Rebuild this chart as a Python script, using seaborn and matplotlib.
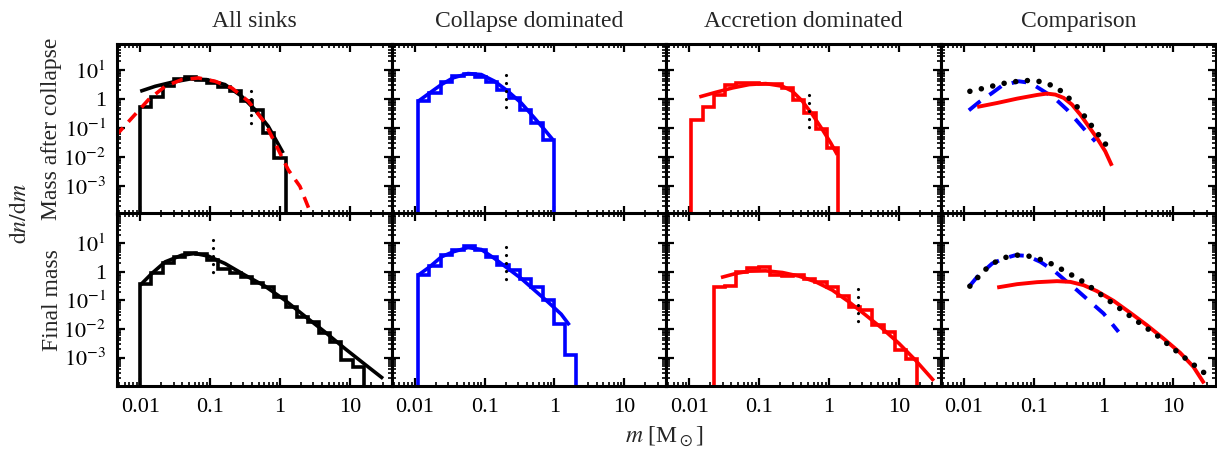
import numpy as np
import pandas as pd
import matplotlib
matplotlib.use("Agg")
import matplotlib.pyplot as plt
import seaborn as sns
from matplotlib.ticker import FixedLocator, LogLocator, FuncFormatter, NullFormatter

# ---------------- data: log10(m / Msun), log10(dn/dm) ----------------
col_titles = ["All sinks", "Collapse dominated", "Accretion dominated", "Comparison"]
row_titles = ["Mass after collapse", "Final mass"]
x_ticks = [0.01, 0.1, 1, 10]
y_ticks = [1e-3, 1e-2, 1e-1, 1, 1e1]

# All sinks, mass after collapse
all_c_edges = [-2.00, -1.84, -1.68, -1.52, -1.36, -1.20, -1.04, -0.88, -0.72, -0.56, -0.40, -0.24, -0.08, 0.08]
all_c_hist = [-0.277, 0.055, 0.46, 0.69, 0.76, 0.645, 0.553, 0.415, 0.265, -0.08, -0.37, -1.18, -2.04]
all_c_fit_m = [-2.0, -1.786, -1.548, -1.286, -1.048, -0.786, -0.548, -0.357, -0.167, 0.047]
all_c_fit_v = [0.263, 0.436, 0.575, 0.69, 0.667, 0.495, 0.092, -0.37, -0.946, -1.87]
all_c_ln_m = [-2.357, -2.12, -1.881, -1.643, -1.405, -1.167, -0.929, -0.69, -0.452, -0.214, -0.071, 0.119, 0.286, 0.429]
all_c_ln_v = [-1.29, -0.66, -0.024, 0.436, 0.667, 0.725, 0.61, 0.38, -0.08, -0.83, -1.52, -2.45, -3.02, -3.88]
all_c_mark = [-0.414, 0.263, -1.06]

# All sinks, final mass
all_f_edges = [-2.00, -1.84, -1.68, -1.52, -1.36, -1.20, -1.04, -0.88, -0.72, -0.56, -0.40,
               -0.24, -0.08, 0.08, 0.24, 0.40, 0.56, 0.72, 0.88, 1.04, 1.20]
all_f_hist = [-0.43, -0.056, 0.315, 0.524, 0.643, 0.62, 0.41, 0.083, -0.056, -0.175, -0.384,
              -0.546, -0.874, -1.224, -1.595, -1.748, -2.155, -2.448, -3.087, -3.32]
all_f_fit_m = [-2.0, -1.834, -1.643, -1.405, -1.214, -1.024, -0.786, -0.5, -0.214, 0.071, 0.357, 0.643, 0.929, 1.214, 1.476]
all_f_fit_v = [-0.465, -0.056, 0.35, 0.584, 0.643, 0.55, 0.292, -0.115, -0.5, -0.99, -1.55, -2.1, -2.68, -3.23, -3.73]
all_f_mark = [-0.955, 1.11, -0.29]

# Collapse dominated, mass after collapse
col_c_edges = [-1.95, -1.79, -1.63, -1.46, -1.30, -1.14, -0.98, -0.82, -0.65, -0.49, -0.33, -0.17, -0.01]
col_c_hist = [-0.08, 0.208, 0.577, 0.785, 0.877, 0.762, 0.577, 0.3, 0.035, -0.37, -0.83, -1.41]
col_c_fit_m = [-1.951, -1.786, -1.619, -1.452, -1.238, -1.048, -0.857, -0.666, -0.476, -0.286, -0.143, -0.023]
col_c_fit_v = [-0.08, 0.208, 0.496, 0.727, 0.877, 0.842, 0.612, 0.265, -0.14, -0.66, -1.06, -1.41]
col_c_mark = [-0.70, 0.842, -0.48]

# Collapse dominated, final mass
col_f_edges = [-1.95, -1.79, -1.63, -1.46, -1.30, -1.14, -0.98, -0.82, -0.65, -0.49, -0.33, -0.17, -0.01, 0.15, 0.31]
col_f_hist = [-0.115, 0.2, 0.584, 0.782, 0.9, 0.782, 0.525, 0.233, 0.058, -0.233, -0.524, -0.99, -1.806, -2.913]
col_f_fit_m = [-1.951, -1.786, -1.619, -1.452, -1.238, -1.048, -0.857, -0.666, -0.476, -0.286, -0.095, 0.096, 0.214]
col_f_fit_v = [-0.115, 0.176, 0.525, 0.7, 0.851, 0.782, 0.466, 0.117, -0.233, -0.641, -1.049, -1.48, -1.864]
col_f_mark = [-0.70, 0.874, -0.465]

# Accretion dominated, mass after collapse
acc_c_edges = [-1.98, -1.81, -1.65, -1.49, -1.33, -1.17, -1.00, -0.84, -0.68, -0.52, -0.36, -0.19, -0.03, 0.13]
acc_c_hist = [-0.716, -0.277, 0.149, 0.496, 0.553, 0.553, 0.53, 0.519, 0.38, -0.024, -0.485, -1.04, -1.7]
acc_c_fit_m = [-1.857, -1.619, -1.381, -1.143, -0.905, -0.667, -0.524, -0.381, -0.238, -0.095, 0.024, 0.119]
acc_c_fit_v = [0.069, 0.23, 0.38, 0.496, 0.53, 0.438, 0.265, -0.08, -0.54, -1.06, -1.52, -1.93]
acc_c_mark = [-0.286, 0.149, -1.18]

# Accretion dominated, final mass
acc_f_edges = [-1.65, -1.49, -1.33, -1.17, -1.00, -0.84, -0.68, -0.52, -0.36, -0.20, -0.03,
               0.13, 0.29, 0.45, 0.62, 0.78, 0.94, 1.10, 1.26]
acc_f_hist = [-0.546, -0.5, 0.0, 0.152, 0.175, -0.115, -0.15, -0.115, -0.233, -0.35, -0.546,
              -0.85, -1.246, -1.34, -1.864, -2.1, -2.74, -3.03]
acc_f_fit_m = [-1.547, -1.333, -1.143, -0.905, -0.667, -0.429, -0.19, 0.048, 0.286, 0.524, 0.762, 1.0, 1.238, 1.5]
acc_f_fit_v = [-0.197, -0.056, 0.025, 0.036, -0.022, -0.15, -0.35, -0.64, -1.05, -1.51, -1.98, -2.5, -3.09, -3.81]
acc_f_mark = [0.414, -0.615, -1.98]

# Comparison, mass after collapse
cmp_c_all_m = [-1.914, -1.757, -1.604, -1.452, -1.295, -1.129, -0.976, -0.833, -0.68, -0.557,
               -0.437, -0.333, -0.237, -0.143, -0.047, 0.048]
cmp_c_all_v = [0.263, 0.346, 0.436, 0.529, 0.588, 0.634, 0.634, 0.553, 0.403, 0.173,
               -0.116, -0.393, -0.716, -1.016, -1.315, -1.628]
cmp_c_col_m = [-1.928, -1.786, -1.595, -1.452, -1.214, -1.048, -0.833, -0.69, -0.524, -0.405, -0.238, -0.119]
cmp_c_col_v = [-0.394, -0.116, 0.206, 0.46, 0.61, 0.553, 0.23, 0.0, -0.37, -0.693, -1.155, -1.467]
cmp_c_acc_m = [-1.809, -1.523, -1.238, -0.952, -0.81, -0.69, -0.571, -0.452, -0.333, -0.214, -0.095, 0.024, 0.119]
cmp_c_acc_v = [-0.277, -0.14, 0.01, 0.137, 0.184, 0.149, 0.035, -0.196, -0.542, -0.946, -1.35, -1.81, -2.31]

# Comparison, final mass
cmp_f_all_m = [-1.914, -1.704, -1.571, -1.429, -1.267, -1.119, -0.819, -0.533, -0.266, -0.009, 0.381, 0.771, 1.143, 1.514]
cmp_f_all_v = [-0.5, 0.058, 0.315, 0.49, 0.584, 0.584, 0.374, 0.0, -0.384, -0.85, -1.549, -2.237, -2.97, -3.67]
cmp_f_col_m = [-1.928, -1.809, -1.595, -1.429, -1.262, -1.095, -0.904, -0.69, -0.524, -0.38, -0.19, 0.0, 0.214]
cmp_f_col_v = [-0.523, -0.175, 0.292, 0.466, 0.584, 0.56, 0.35, 0.0, -0.35, -0.64, -1.05, -1.457, -2.098]
cmp_f_acc_m = [-1.523, -1.238, -0.952, -0.666, -0.476, -0.286, -0.095, 0.143, 0.381, 0.62, 0.857, 1.096, 1.286, 1.439]
cmp_f_acc_v = [-0.546, -0.43, -0.36, -0.325, -0.35, -0.465, -0.674, -1.012, -1.43, -1.864, -2.33, -2.83, -3.32, -3.9]

# ---------------- style ----------------
sns.set_style("ticks")
plt.rcParams.update({
    "font.family": ["Liberation Serif", "DejaVu Serif"],
    "mathtext.fontset": "stix",
    "axes.linewidth": 2.0,
    "axes.edgecolor": "black",
    "xtick.color": "black", "ytick.color": "black",
    "xtick.labelsize": 16, "ytick.labelsize": 16,
})

BLACK, BLUE, RED = "#000000", "#0000ff", "#ff0000"
FLOOR = -7.0
LW = 2.6

fig, axes = plt.subplots(2, 4, figsize=(12.17, 4.49), dpi=100, sharex=True, sharey="row",
                         gridspec_kw=dict(height_ratios=[169.5, 172.5], wspace=0, hspace=0))
fig.subplots_adjust(left=117.3 / 1217, right=1215.5 / 1217, top=1 - 44 / 449, bottom=1 - 386 / 449)


def curve_df(lm, lv):
    return pd.DataFrame({"m": np.power(10.0, lm), "v": np.power(10.0, lv)})


def step_df(edges, vals):
    xs, ys = [edges[0]], [FLOOR]
    for i, v in enumerate(vals):
        xs += [edges[i], edges[i + 1]]
        ys += [v, v]
    xs.append(edges[-1]); ys.append(FLOOR)
    return curve_df(xs, ys)


def line(ax, df, color, lw=LW, ls="-", cap="butt"):
    sns.lineplot(data=df, x="m", y="v", ax=ax, sort=False, estimator=None, color=color,
                 linewidth=lw, linestyle=ls, dash_capstyle=cap, solid_capstyle="butt",
                 solid_joinstyle="miter")


def mark(ax, spec):
    lm, top, bot = spec
    line(ax, curve_df([lm, lm], [top, bot]), BLACK, lw=2.3, ls=(0, (0.01, 2.5)), cap="round")


for ax in axes.flat:
    ax.set_xscale("log")
    ax.set_yscale("log")

# All sinks
line(axes[0, 0], step_df(all_c_edges, all_c_hist), BLACK)
line(axes[0, 0], curve_df(all_c_fit_m, all_c_fit_v), BLACK)
line(axes[0, 0], curve_df(all_c_ln_m, all_c_ln_v), RED, ls=(0, (3.2, 2.2)))
mark(axes[0, 0], all_c_mark)
line(axes[1, 0], step_df(all_f_edges, all_f_hist), BLACK)
line(axes[1, 0], curve_df(all_f_fit_m, all_f_fit_v), BLACK)
mark(axes[1, 0], all_f_mark)

# Collapse dominated
line(axes[0, 1], step_df(col_c_edges, col_c_hist), BLUE)
line(axes[0, 1], curve_df(col_c_fit_m, col_c_fit_v), BLUE)
mark(axes[0, 1], col_c_mark)
line(axes[1, 1], step_df(col_f_edges, col_f_hist), BLUE)
line(axes[1, 1], curve_df(col_f_fit_m, col_f_fit_v), BLUE)
mark(axes[1, 1], col_f_mark)

# Accretion dominated
line(axes[0, 2], step_df(acc_c_edges, acc_c_hist), RED)
line(axes[0, 2], curve_df(acc_c_fit_m, acc_c_fit_v), RED)
mark(axes[0, 2], acc_c_mark)
line(axes[1, 2], step_df(acc_f_edges, acc_f_hist), RED)
line(axes[1, 2], curve_df(acc_f_fit_m, acc_f_fit_v), RED)
mark(axes[1, 2], acc_f_mark)

# Comparison
for r, (am, av, cm, cv, rm, rv) in enumerate([
        (cmp_c_all_m, cmp_c_all_v, cmp_c_col_m, cmp_c_col_v, cmp_c_acc_m, cmp_c_acc_v),
        (cmp_f_all_m, cmp_f_all_v, cmp_f_col_m, cmp_f_col_v, cmp_f_acc_m, cmp_f_acc_v)]):
    ax = axes[r, 3]
    line(ax, curve_df(cm, cv), BLUE, lw=2.8, ls=(0, (3.8, 2.8)))
    line(ax, curve_df(rm, rv), RED, lw=2.8)
    line(ax, curve_df(am, av), BLACK, lw=4.0, ls=(0, (0.01, 2.1)), cap="round")


def yfmt(v, pos):
    e = int(round(np.log10(v)))
    return "1" if e == 0 else r"$10^{%d}$" % e


for (r, c), ax in np.ndenumerate(axes):
    ax.set_xlim(0.0047, 40)
    ax.set_ylim(*((1.1e-4, 79) if r == 0 else (1.02e-4, 110)))
    ax.xaxis.set_major_locator(FixedLocator(x_ticks))
    ax.xaxis.set_minor_locator(LogLocator(base=10, subs=np.arange(2, 10), numticks=100))
    ax.xaxis.set_major_formatter(FuncFormatter(lambda v, p: "%g" % v))
    ax.xaxis.set_minor_formatter(NullFormatter())
    ax.yaxis.set_major_locator(FixedLocator(y_ticks))
    ax.yaxis.set_minor_locator(LogLocator(base=10, subs=np.arange(2, 10), numticks=100))
    ax.yaxis.set_major_formatter(FuncFormatter(yfmt))
    ax.yaxis.set_minor_formatter(NullFormatter())
    ax.tick_params(which="both", direction="in", top=True, right=True, color="black")
    ax.tick_params(which="major", length=5.5, width=1.6)
    ax.tick_params(which="minor", length=3.0, width=1.2)
    ax.tick_params(axis="x", which="major", pad=9)
    ax.tick_params(axis="y", which="major", pad=8)
    ax.set_xlabel("")
    ax.set_ylabel("")
    for s in ax.spines.values():
        s.set_linewidth(2.2)
    if r == 0:
        ax.set_title(col_titles[c], fontsize=17, pad=12)
    if c > 0:
        ax.tick_params(labelleft=False)
    if r == 0:
        ax.tick_params(labelbottom=False)

fig.text(52 / 1217, 1 - 128.5 / 449, row_titles[0], rotation=90, ha="center", va="center", fontsize=17)
fig.text(52 / 1217, 1 - 300 / 449, row_titles[1], rotation=90, ha="center", va="center", fontsize=17)
fig.text(20 / 1217, 1 - 213.5 / 449, r"$\mathrm{d}n/\mathrm{d}m$", rotation=90, ha="center", va="center", fontsize=17)
fig.text(664 / 1217, 1 - 437 / 449, r"$m$ [M$_\odot$]", ha="center", va="center", fontsize=17)

fig.savefig("out.png", dpi=100)
